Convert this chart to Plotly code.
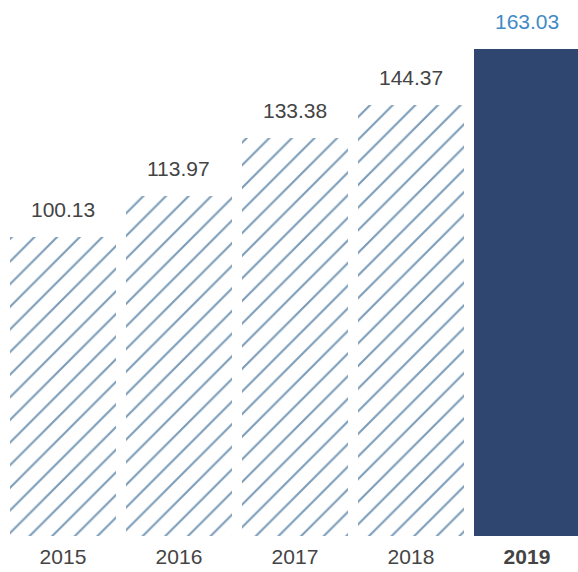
import plotly.graph_objects as go

years = ["2015", "2016", "2017", "2018", "2019"]
values = [100.13, 113.97, 133.38, 144.37, 163.03]
value_labels = ["100.13", "113.97", "133.38", "144.37", "163.03"]
tick_labels = ["2015", "2016", "2017", "2018", "<b>2019</b>"]

hatch_color = "#7b9cb8"
navy = "#2e4670"
highlight_text = "#3f8bc6"
text_dark = "#444444"

x_pos = list(range(len(years)))
last = len(years) - 1

fig = go.Figure()
# Earlier years: white bars with diagonal hatching
fig.add_trace(go.Bar(
    x=x_pos[:last],
    y=values[:last],
    width=0.91,
    marker=dict(
        color="white",
        line=dict(width=0),
        pattern=dict(
            shape="/",
            fgcolor=hatch_color,
            fgopacity=1,
            bgcolor="white",
            size=16,
            solidity=0.13,
            fillmode="overlay",
        ),
    ),
    hoverinfo="skip",
))
# Latest year: solid navy bar
fig.add_trace(go.Bar(
    x=x_pos[last:],
    y=values[last:],
    width=0.91,
    marker=dict(color=navy, line=dict(width=0)),
    hoverinfo="skip",
))

for i, (v, lab) in enumerate(zip(values, value_labels)):
    fig.add_annotation(
        x=x_pos[i], y=v, text=lab, showarrow=False,
        yanchor="bottom", yshift=14,
        font=dict(size=21, color=highlight_text if i == last else text_dark,
                  family="Liberation Sans"),
    )

fig.update_layout(
    width=578,
    height=572,
    margin=dict(l=0, r=0, t=0, b=36),
    plot_bgcolor="white",
    paper_bgcolor="white",
    showlegend=False,
    barmode="overlay",
    bargap=0,
    font=dict(family="Liberation Sans", color=text_dark, size=21),
)
fig.update_xaxes(
    range=[-0.543, 4.44],
    tickmode="array",
    tickvals=x_pos,
    ticktext=tick_labels,
    showgrid=False,
    zeroline=False,
    showline=False,
    ticks="",
    ticklabelstandoff=6,
    tickfont=dict(size=21, color=text_dark),
)
fig.update_yaxes(
    range=[0, 179.5],
    visible=False,
    showgrid=False,
)

fig.write_html("out.html")
